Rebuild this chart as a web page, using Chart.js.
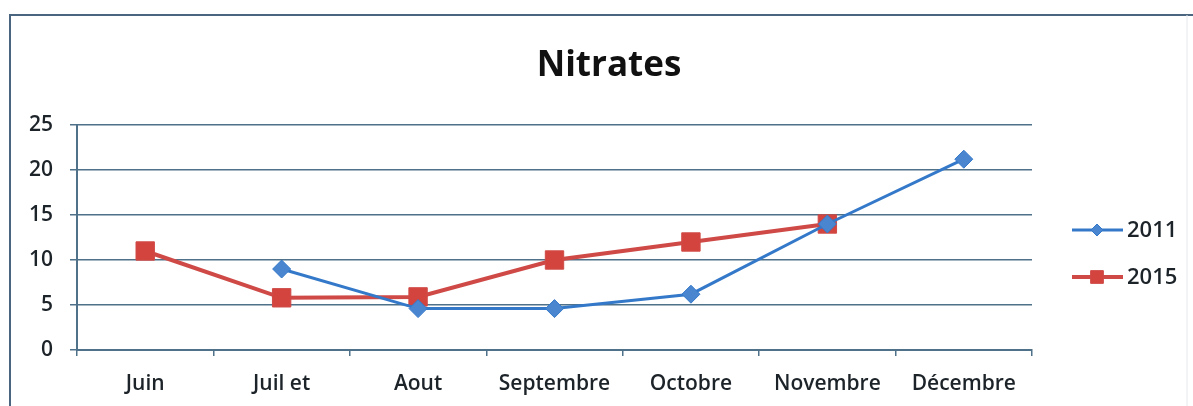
<!DOCTYPE html>
<html>
<head>
<meta charset="utf-8">
<script src="https://cdn.jsdelivr.net/npm/chart.js@4/dist/chart.umd.min.js"></script>
<style>
  html, body { margin: 0; padding: 0; background: #ffffff; }
  #wrap { width: 1193px; height: 406px; position: relative; }
</style>
</head>
<body>
<div id="wrap"><canvas id="c" width="1193" height="406"></canvas></div>
<script>
const categories = ["Juin", "Juil et", "Aout", "Septembre", "Octobre", "Novembre", "Décembre"];
const values2011 = [null, 9.0, 4.6, 4.6, 6.2, 14.0, 21.2];
const values2015 = [11.0, 5.8, 5.9, 10.0, 12.0, 14.0, null];
const seriesNames = ["2011", "2015"];
const yTicks = [0, 5, 10, 15, 20, 25];

const BLUE = '#3479c9';
const RED = '#cf4a46';
const GRID = '#4f7189';
const TEXT = '#1c2329';
const FONT = "'Open Sans', 'DejaVu Sans', sans-serif";

const framePlugin = {
  id: 'frame',
  beforeDraw(chart) {
    const ctx = chart.ctx;
    ctx.save();
    ctx.fillStyle = '#ffffff';
    ctx.fillRect(0, 0, chart.width, chart.height);
    ctx.strokeStyle = '#4a6580';
    ctx.lineWidth = 2;
    ctx.beginPath();
    ctx.moveTo(10, chart.height + 2);
    ctx.lineTo(10, 15);
    ctx.lineTo(chart.width + 2, 15);
    ctx.stroke();
    ctx.strokeStyle = '#e4e8ec';
    ctx.lineWidth = 1;
    ctx.beginPath();
    ctx.moveTo(1187, 15);
    ctx.lineTo(1187, chart.height);
    ctx.stroke();
    ctx.restore();
  }
};

const legendPlugin = {
  id: 'customLegend',
  afterDraw(chart) {
    const ctx = chart.ctx;
    const items = [
      { y: 230, ds: chart.data.datasets[0], r: 6 },
      { y: 277, ds: chart.data.datasets[1], r: 9 }
    ];
    ctx.save();
    items.forEach(it => {
      ctx.strokeStyle = it.ds.borderColor;
      ctx.lineWidth = it.ds.borderWidth;
      ctx.beginPath();
      ctx.moveTo(1072, it.y);
      ctx.lineTo(1123, it.y);
      ctx.stroke();
      ctx.fillStyle = it.ds.pointBackgroundColor;
      ctx.strokeStyle = it.ds.pointBorderColor;
      ctx.lineWidth = 1;
      Chart.helpers.drawPoint(ctx, { pointStyle: it.ds.pointStyle, radius: it.r, borderWidth: 1, rotation: 0 }, 1097, it.y);
      ctx.fillStyle = TEXT;
      ctx.font = "600 22px " + FONT;
      ctx.textAlign = 'left';
      ctx.textBaseline = 'middle';
      ctx.fillText(it.ds.label, 1127, it.y + 1);
    });
    ctx.restore();
  }
};

new Chart(document.getElementById('c'), {
  type: 'line',
  data: {
    labels: categories,
    datasets: [
      {
        label: seriesNames[0],
        data: values2011,
        borderColor: BLUE,
        backgroundColor: BLUE,
        borderWidth: 3,
        pointStyle: 'rectRot',
        pointRadius: 9,
        pointHoverRadius: 9,
        pointBackgroundColor: '#4a86d0',
        pointBorderColor: BLUE,
        pointBorderWidth: 1,
        tension: 0,
        spanGaps: false
      },
      {
        label: seriesNames[1],
        data: values2015,
        borderColor: RED,
        backgroundColor: RED,
        borderWidth: 4,
        pointStyle: 'rect',
        pointRadius: 13,
        pointHoverRadius: 13,
        pointBackgroundColor: '#d4443f',
        pointBorderColor: RED,
        pointBorderWidth: 1,
        tension: 0,
        spanGaps: false
      }
    ]
  },
  options: {
    responsive: false,
    animation: false,
    devicePixelRatio: 1,
    layout: { padding: { left: 25, right: 0, top: 0, bottom: 0 } },
    plugins: {
      legend: { display: false },
      tooltip: { enabled: false },
      title: {
        display: true,
        text: 'Nitrates',
        color: '#111111',
        font: { family: FONT, size: 35, weight: 'bold', lineHeight: 1.2 },
        padding: { top: 45, bottom: 38 }
      }
    },
    scales: {
      x: {
        type: 'category',
        offset: true,
        grid: {
          display: true,
          offset: true,
          drawOnChartArea: false,
          drawTicks: true,
          tickLength: 6,
          color: GRID,
          lineWidth: 1.5
        },
        border: { display: true, color: GRID, width: 2 },
        ticks: {
          color: TEXT,
          font: { family: FONT, size: 21, weight: '600' },
          padding: 15,
          maxRotation: 0,
          autoSkip: false
        },
        afterFit(scale) { scale.height = 56; }
      },
      y: {
        min: 0,
        max: 25,
        afterBuildTicks(scale) { scale.ticks = yTicks.map(v => ({ value: v })); },
        grid: {
          color: GRID,
          lineWidth: 1.5,
          drawTicks: true,
          tickLength: 7
        },
        border: { display: true, color: GRID, width: 2 },
        ticks: {
          color: TEXT,
          font: { family: FONT, size: 21, weight: '600' },
          padding: 17
        },
        afterFit(scale) { scale.width = 52; }
      },
      yRight: {
        position: 'right',
        display: true,
        min: 0,
        max: 25,
        grid: { display: false, drawTicks: false },
        border: { display: false },
        ticks: { display: false },
        afterFit(scale) { scale.width = 161; }
      }
    }
  },
  plugins: [framePlugin, legendPlugin]
});
</script>
</body>
</html>
